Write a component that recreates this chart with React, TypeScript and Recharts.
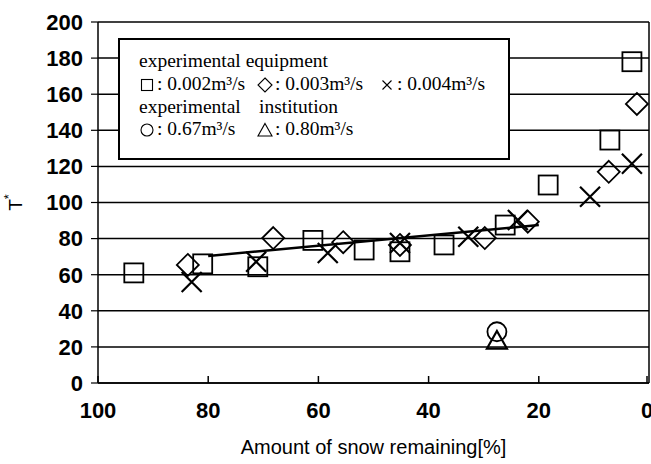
import React from 'react';
import { CartesianGrid, ReferenceLine, Scatter, ScatterChart, XAxis, YAxis } from 'recharts';

// axes
const xTicks = [100, 80, 60, 40, 20, 0];
const yTicks = [0, 20, 40, 60, 80, 100, 120, 140, 160, 180, 200];

// experimental equipment: 0.002 m3/s (squares)
const sqX = [93.5, 81, 71, 61, 51.7, 45.2, 37.2, 26.1, 18.3, 7.1, 3.1];
const sqY = [61, 66, 64.4, 79, 73.7, 72.7, 76.5, 87.5, 109.7, 134.6, 178];
// 0.003 m3/s (diamonds)
const diaX = [83.7, 68.2, 55.5, 45.2, 29.8, 22, 7.3, 2.2];
const diaY = [65.4, 80.3, 78, 76.5, 80.3, 89.4, 117, 154.6];
// 0.004 m3/s (crosses)
const crossX = [83, 71.3, 58.3, 45.2, 32.8, 23.8, 10.7, 3.1];
const crossY = [56, 67.2, 72, 77.6, 81, 90.3, 103.2, 121.5];
// experimental institution
const circX = [27.6];
const circY = [28.4];
const triX = [27.6];
const triY = [23.8];
// trend line
const trendX = [80, 20];
const trendY = [70.4, 87.5];

const pts = (xs: number[], ys: number[]) => xs.map((x, i) => ({ x, y: ys[i] }));

const SANS = "'Liberation Sans', Arial, sans-serif";
const SERIF = "'Liberation Serif', 'Times New Roman', serif";
const SW = 1.8;

const Square = ({ cx, cy }: any) => (
  <rect x={cx - 9.5} y={cy - 9.5} width={19} height={19} fill="none" stroke="#000" strokeWidth={SW} />
);
const Diamond = ({ cx, cy }: any) => (
  <path d={`M${cx},${cy - 11}L${cx + 11},${cy}L${cx},${cy + 11}L${cx - 11},${cy}Z`} fill="none" stroke="#000" strokeWidth={SW} />
);
const Cross = ({ cx, cy }: any) => (
  <path d={`M${cx - 10},${cy - 10}L${cx + 10},${cy + 10}M${cx + 10},${cy - 10}L${cx - 10},${cy + 10}`} stroke="#000" strokeWidth={SW + 0.4} />
);
const Circ = ({ cx, cy }: any) => <circle cx={cx} cy={cy} r={9.5} fill="none" stroke="#000" strokeWidth={SW} />;
const Tri = ({ cx, cy }: any) => (
  <path d={`M${cx},${cy - 9}L${cx + 10},${cy + 8.5}L${cx - 10},${cy + 8.5}Z`} fill="none" stroke="#000" strokeWidth={SW + 0.4} />
);

const XTick = ({ x, y, payload }: any) => (
  <g>
    <line x1={x} x2={x} y1={y} y2={y - 7} stroke="#000" strokeWidth={1.5} />
    <text x={x} y={y + 35} textAnchor="middle" fontSize={22} fontWeight="bold" fontFamily={SANS} fill="#000">
      {payload.value}
    </text>
  </g>
);

const YLabel = ({ viewBox }: any) => {
  const cx = 15;
  const cy = viewBox.y + viewBox.height / 2;
  return (
    <text x={cx} y={cy} transform={`rotate(-90 ${cx} ${cy})`} textAnchor="middle" dominantBaseline="central" fontSize={19} fontFamily={SANS} fill="#000">
      <tspan>T</tspan>
      <tspan dy={-7} fontSize={13}>*</tspan>
    </text>
  );
};

// small legend glyphs
const Sym = ({ kind }: { kind: string }) => {
  const s = 16;
  const c = s / 2;
  let el: React.ReactNode = null;
  if (kind === 'square') el = <rect x={2.5} y={2.5} width={11} height={11} fill="none" stroke="#000" strokeWidth={1.1} />;
  if (kind === 'diamond') el = <path d={`M${c},1L15,${c}L${c},15L1,${c}Z`} fill="none" stroke="#000" strokeWidth={1.1} />;
  if (kind === 'cross') el = <path d="M3.5,3.5L12.5,12.5M12.5,3.5L3.5,12.5" stroke="#000" strokeWidth={1.1} />;
  if (kind === 'circle') el = <circle cx={c} cy={c} r={6} fill="none" stroke="#000" strokeWidth={1.1} />;
  if (kind === 'triangle') el = <path d={`M${c},1.5L15,14L1,14Z`} fill="none" stroke="#000" strokeWidth={1.1} />;
  return (
    <svg width={s} height={s} style={{ marginRight: 2, marginBottom: -1 }}>
      {el}
    </svg>
  );
};

const legendLine: React.CSSProperties = { position: 'absolute', whiteSpace: 'nowrap', lineHeight: '22px', display: 'flex', alignItems: 'center' };

export default function App() {
  return (
    <div style={{ position: 'absolute', left: 0, top: 0, width: 651, height: 464, overflow: 'hidden', background: '#fff' }}>
      <ScatterChart width={651} height={464} margin={{ top: 22, right: 2, bottom: 0, left: 0 }}>
        <CartesianGrid horizontal vertical={false} stroke="#000" strokeWidth={1.5} strokeOpacity={1} />
        <XAxis
          type="number"
          dataKey="x"
          domain={[0, 100]}
          reversed
          ticks={xTicks}
          height={81}
          tickSize={0}
          tickMargin={0}
          tick={<XTick />}
          axisLine={{ stroke: '#000', strokeWidth: 1.5 }}
          label={{ value: 'Amount of snow remaining[%]', position: 'insideBottom', offset: 10, fontSize: 20, fontFamily: SANS, fill: '#000' }}
        />
        <YAxis
          type="number"
          dataKey="y"
          domain={[0, 200]}
          ticks={yTicks}
          width={98}
          tickSize={7}
          tickMargin={8}
          tick={{ fontSize: 22, fontWeight: 'bold', fontFamily: SANS, fill: '#000' }}
          tickLine={{ stroke: '#000', strokeWidth: 1.2 }}
          axisLine={{ stroke: '#000', strokeWidth: 1.5 }}
          label={<YLabel />}
        />
        <ReferenceLine x={0} stroke="#000" strokeWidth={1.5} />
        <Scatter data={pts(sqX, sqY)} shape={<Square />} isAnimationActive={false} />
        <Scatter data={pts(diaX, diaY)} shape={<Diamond />} isAnimationActive={false} />
        <Scatter data={pts(crossX, crossY)} shape={<Cross />} isAnimationActive={false} />
        <Scatter data={pts(circX, circY)} shape={<Circ />} isAnimationActive={false} />
        <Scatter data={pts(triX, triY)} shape={<Tri />} isAnimationActive={false} />
        <Scatter data={pts(trendX, trendY)} line={{ stroke: '#000', strokeWidth: 2.5 }} shape={() => <g />} isAnimationActive={false} />
      </ScatterChart>
      <div
        style={{
          position: 'absolute', left: 118, top: 38, width: 392, height: 122, boxSizing: 'border-box',
          border: '2px solid #000', background: '#fff', fontFamily: SERIF, fontSize: 19.5, color: '#000',
        }}
      >
        <div style={{ ...legendLine, left: 19, top: 10 }}>experimental equipment</div>
        <div style={{ ...legendLine, left: 19, top: 33 }}><Sym kind="square" />: 0.002m³/s</div>
        <div style={{ ...legendLine, left: 137, top: 33 }}><Sym kind="diamond" />: 0.003m³/s</div>
        <div style={{ ...legendLine, left: 259, top: 33 }}><Sym kind="cross" />: 0.004m³/s</div>
        <div style={{ ...legendLine, left: 19, top: 56 }}>experimental</div>
        <div style={{ ...legendLine, left: 139, top: 56 }}>institution</div>
        <div style={{ ...legendLine, left: 19, top: 78 }}><Sym kind="circle" />: 0.67m³/s</div>
        <div style={{ ...legendLine, left: 137, top: 78 }}><Sym kind="triangle" />: 0.80m³/s</div>
      </div>
    </div>
  );
}
